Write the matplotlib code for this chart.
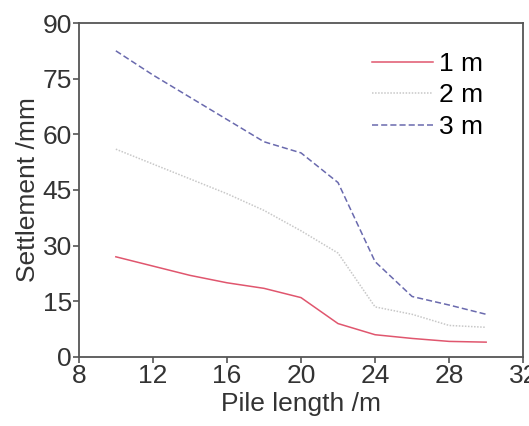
import matplotlib
matplotlib.use("Agg")
import matplotlib.pyplot as plt

plt.rcParams['font.family'] = ['Liberation Sans', 'DejaVu Sans']

pile_length = [10, 12, 14, 16, 18, 20, 22, 24, 26, 28, 30]
settle_1m = [27, 24.5, 22, 20, 18.5, 16, 9, 6, 5, 4.2, 4]
settle_2m = [56, 52, 48, 44, 39.5, 34, 28, 13.5, 11.5, 8.5, 8]
settle_3m = [82.5, 76, 70, 64, 58, 55, 47, 25.7, 16.3, 14, 11.5]
labels = ['1 m', '2 m', '3 m']

fig = plt.figure(figsize=(5.29, 4.26), dpi=100)
ax = fig.add_axes([0.149, 0.162, 0.840, 0.784])

ax.plot(pile_length, settle_1m, color='#e0566e', lw=1.1, ls='-', label=labels[0])
ax.plot(pile_length, settle_2m, color='#c8c8c8', lw=1.1, ls=(0, (1, 1)), label=labels[1])
ax.plot(pile_length, settle_3m, color='#6a6aae', lw=1.1, ls=(0, (4, 2)), label=labels[2])

ax.set_xlim(8, 32)
ax.set_ylim(0, 90)
ax.set_xticks([8, 12, 16, 20, 24, 28, 32])
ax.set_yticks([0, 15, 30, 45, 60, 75, 90])
ax.tick_params(direction='out', length=4, width=1.2, labelsize=19,
               colors='#555555', labelcolor='#333333', pad=1)
for s in ax.spines.values():
    s.set_color('#555555')
    s.set_linewidth(1.3)

ax.set_xlabel('Pile length /m', fontsize=19, color='#333333', labelpad=3)
ax.set_ylabel('Settlement /mm', fontsize=19, color='#333333', labelpad=2)

ax.legend(loc='upper left', bbox_to_anchor=(372 / 529, 1 - 52 / 426),
          bbox_transform=fig.transFigure, frameon=False,
          fontsize=19, handlelength=2.3, handletextpad=0.25,
          labelspacing=0.28, borderaxespad=0, borderpad=0)

fig.savefig('out.png', dpi=100)
